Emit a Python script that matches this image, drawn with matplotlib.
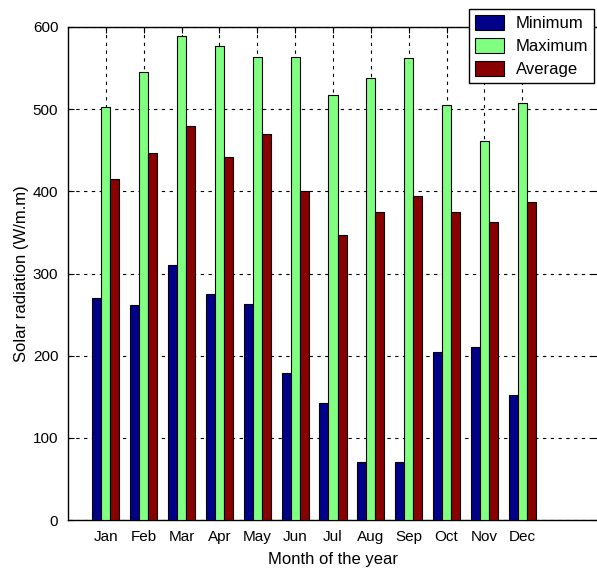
import matplotlib
matplotlib.use("Agg")
import matplotlib.pyplot as plt
import numpy as np

plt.rcParams['font.family'] = ['Liberation Sans', 'DejaVu Sans']

months = ['Jan', 'Feb', 'Mar', 'Apr', 'May', 'Jun', 'Jul', 'Aug', 'Sep', 'Oct', 'Nov', 'Dec']
minimum = [270, 262, 310, 275, 263, 179, 142, 70, 70, 205, 210, 152]
maximum = [503, 545, 589, 577, 563, 563, 517, 538, 562, 505, 461, 508]
average = [415, 447, 479, 442, 470, 400, 347, 375, 394, 375, 363, 387]

x = np.arange(1, len(months) + 1)
w = 0.24

fig = plt.figure(figsize=(5.97, 5.70), dpi=100)
ax = fig.add_axes([68/597, 50/570, 530/597, 493/570])

ax.bar(x - w, minimum, w, color='#000088', edgecolor='black', linewidth=0.8, label='Minimum', zorder=3)
ax.bar(x, maximum, w, color='#80FF80', edgecolor='black', linewidth=0.8, label='Maximum', zorder=3)
ax.bar(x + w, average, w, color='#880000', edgecolor='black', linewidth=0.8, label='Average', zorder=3)

ax.set_xlim(0, 14)
ax.set_ylim(0, 600)
ax.set_xticks(x)
ax.set_xticklabels(months)
ax.set_yticks(np.arange(0, 601, 100))
ax.grid(True, color='black', linestyle=(0, (3, 4)), linewidth=0.8, zorder=0)
ax.tick_params(direction='in', top=True, right=True, length=4, labelsize=11, pad=7)
for s in ax.spines.values():
    s.set_linewidth(1.0)

ax.set_xlabel('Month of the year', fontsize=12, labelpad=6)
ax.set_ylabel('Solar radiation (W/m.m)', fontsize=12, labelpad=3)

leg = ax.legend(loc='upper left', bbox_to_anchor=(469/597, 1 - 9/570), bbox_transform=fig.transFigure,
                fancybox=False, shadow=False, edgecolor='black', framealpha=1, fontsize=12,
                handlelength=1.75, handleheight=1.0, borderpad=0.35, labelspacing=0.42, handletextpad=0.7,
                borderaxespad=0)
leg.get_frame().set_linewidth(1.0)

fig.savefig('out.png', dpi=100)
